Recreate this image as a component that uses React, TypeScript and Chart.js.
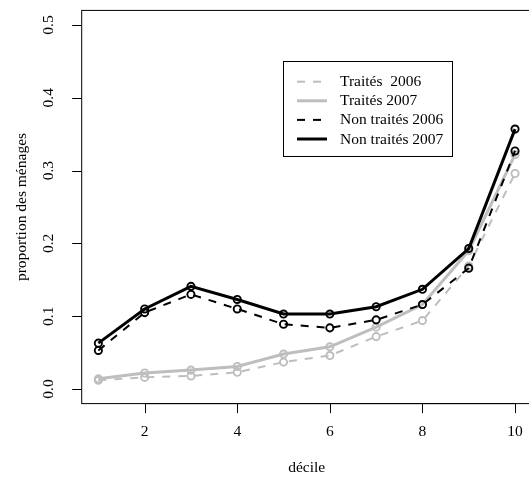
import { useEffect, useRef } from "react";
import { Chart, registerables } from "chart.js";

Chart.register(...registerables);

// Deciles on the x axis
const deciles = [1, 2, 3, 4, 5, 6, 7, 8, 9, 10];

// Proportion of households per decile
const traites2006 = [0.012, 0.016, 0.018, 0.023, 0.037, 0.046, 0.072, 0.094, 0.169, 0.296];
const traites2007 = [0.014, 0.022, 0.026, 0.031, 0.048, 0.058, 0.085, 0.116, 0.19, 0.322];
const nonTraites2006 = [0.053, 0.105, 0.13, 0.11, 0.089, 0.084, 0.095, 0.116, 0.166, 0.327];
const nonTraites2007 = [0.063, 0.11, 0.141, 0.123, 0.103, 0.103, 0.113, 0.137, 0.193, 0.357];

const seriesLabels = ["Traités  2006", "Traités 2007", "Non traités 2006", "Non traités 2007"];

// Axis ticks
const xTickValues = [2, 4, 6, 8, 10];
const xTickLabels = ["2", "4", "6", "8", "10"];
const yTickValues = [0, 0.1, 0.2, 0.3, 0.4, 0.5];
const yTickLabels = ["0.0", "0.1", "0.2", "0.3", "0.4", "0.5"];

const xTitle = "décile";
const yTitle = "proportion des ménages";

const GREY = "#bebebe";
const FONT = '15.5px "Liberation Serif", "Times New Roman", serif';
const TICK_LEN = 9.5;

const CANVAS_W = 540;
const CANVAS_H = 477;

function series(values: number[]) {
  return deciles.map((d, i) => ({ x: d, y: values[i] }));
}

function makeDataset(
  label: string,
  values: number[],
  color: string,
  width: number,
  dash: number[],
  order: number
) {
  return {
    label,
    data: series(values),
    borderColor: color,
    borderWidth: width,
    borderDash: dash,
    pointRadius: 3.6,
    pointHoverRadius: 3.6,
    pointBorderWidth: 1.9,
    pointBorderColor: color,
    pointBackgroundColor: "rgba(0,0,0,0)",
    tension: 0,
    fill: false,
    order,
  };
}

// R-style frame, axes, titles and legend
const basePlotDecor = {
  id: "basePlotDecor",
  afterDraw(chart: any) {
    const { ctx, chartArea, scales } = chart;
    const { left, right, top, bottom } = chartArea;
    const xs = scales.x;
    const ys = scales.y;

    ctx.save();
    ctx.strokeStyle = "#000";
    ctx.fillStyle = "#000";
    ctx.lineWidth = 1;
    ctx.setLineDash([]);

    // frame
    ctx.strokeRect(left, top, right - left, bottom - top);

    ctx.font = FONT;

    // x axis
    const xFirst = xs.getPixelForValue(xTickValues[0]);
    const xLast = xs.getPixelForValue(xTickValues[xTickValues.length - 1]);
    ctx.beginPath();
    ctx.moveTo(xFirst, bottom);
    ctx.lineTo(xLast, bottom);
    ctx.stroke();
    ctx.textAlign = "center";
    ctx.textBaseline = "middle";
    xTickValues.forEach((v, i) => {
      const px = Math.round(xs.getPixelForValue(v)) + 0.5;
      ctx.beginPath();
      ctx.moveTo(px, bottom);
      ctx.lineTo(px, bottom + TICK_LEN);
      ctx.stroke();
      ctx.fillText(xTickLabels[i], xs.getPixelForValue(v), bottom + 28.5);
    });

    // y axis
    yTickValues.forEach((v, i) => {
      const py = Math.round(ys.getPixelForValue(v)) + 0.5;
      ctx.beginPath();
      ctx.moveTo(left, py);
      ctx.lineTo(left - TICK_LEN, py);
      ctx.stroke();
      ctx.save();
      ctx.translate(left - 32.5, ys.getPixelForValue(v));
      ctx.rotate(-Math.PI / 2);
      ctx.fillText(yTickLabels[i], 0, 0);
      ctx.restore();
    });

    // titles
    ctx.fillText(xTitle, (left + right) / 2, bottom + 64);
    ctx.save();
    ctx.translate(left - 60, (top + bottom) / 2);
    ctx.rotate(-Math.PI / 2);
    ctx.fillText(yTitle, 0, 0);
    ctx.restore();

    // legend
    const lx = 283.5;
    const ly = 61.5;
    const lw = 169;
    const lh = 95;
    ctx.fillStyle = "#fff";
    ctx.fillRect(lx, ly, lw, lh);
    ctx.strokeStyle = "#000";
    ctx.lineWidth = 1;
    ctx.strokeRect(lx, ly, lw, lh);

    chart.data.datasets.forEach((ds: any, i: number) => {
      const yy = 81.7 + i * 19.1;
      ctx.strokeStyle = ds.borderColor;
      ctx.lineWidth = ds.borderWidth;
      ctx.setLineDash(ds.borderDash || []);
      ctx.beginPath();
      ctx.moveTo(297, yy);
      ctx.lineTo(327, yy);
      ctx.stroke();
      ctx.setLineDash([]);
      ctx.fillStyle = "#000";
      ctx.textAlign = "left";
      ctx.textBaseline = "middle";
      ctx.fillText(ds.label, 340, yy + 0.5);
    });

    ctx.restore();
  },
};

export default function App() {
  const canvasRef = useRef<HTMLCanvasElement | null>(null);

  useEffect(() => {
    if (!canvasRef.current) return;
    const chart = new Chart(canvasRef.current, {
      type: "line",
      data: {
        datasets: [
          makeDataset(seriesLabels[0], traites2006, GREY, 2, [8, 8], 4),
          makeDataset(seriesLabels[1], traites2007, GREY, 3, [], 3),
          makeDataset(seriesLabels[2], nonTraites2006, "#000", 2, [8, 8], 2),
          makeDataset(seriesLabels[3], nonTraites2007, "#000", 3, [], 1),
        ],
      },
      options: {
        responsive: false,
        animation: false,
        devicePixelRatio: 1,
        layout: {
          padding: {
            left: 81.7,
            top: 10.4,
            right: CANVAS_W - 531.7,
            bottom: CANVAS_H - 403.6,
          },
        },
        scales: {
          x: { type: "linear", min: 0.64, max: 10.36, display: false },
          y: { type: "linear", min: -0.02, max: 0.52, display: false },
        },
        plugins: {
          legend: { display: false },
          tooltip: { enabled: false },
        },
        events: [],
      },
      plugins: [basePlotDecor],
    });
    return () => chart.destroy();
  }, []);

  return (
    <div
      style={{
        position: "fixed",
        left: 0,
        top: 0,
        width: 529,
        height: 477,
        overflow: "hidden",
        background: "#fff",
      }}
    >
      <canvas
        ref={canvasRef}
        width={CANVAS_W}
        height={CANVAS_H}
        style={{ display: "block", width: CANVAS_W, height: CANVAS_H }}
      />
    </div>
  );
}
